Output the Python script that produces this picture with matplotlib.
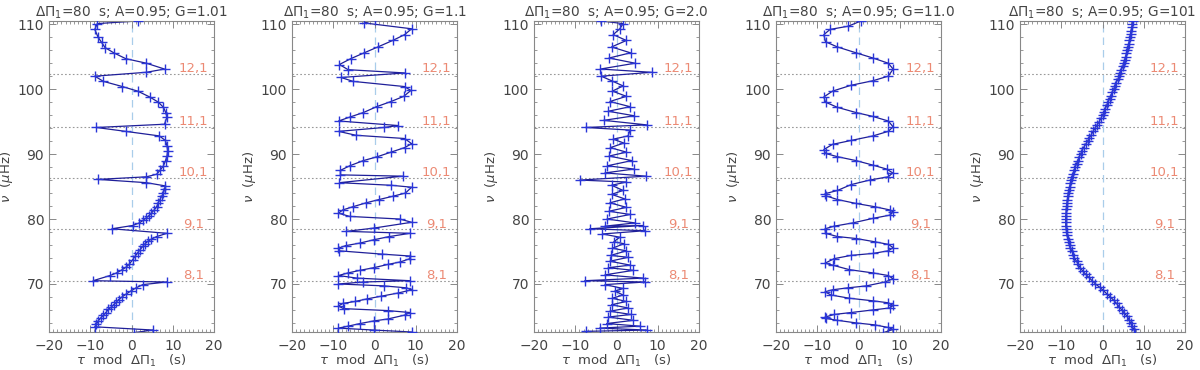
import numpy as np
from matplotlib import pyplot as plt
from matplotlib.ticker import MultipleLocator

# tau mod DeltaPi1 (s) and frequency nu (muHz)
G_values = ['1.01', '1.1', '2.0', '11.0', '101']

tau_G1 = [1.5, -8.3, -8.9, -8.1, -7.25, -6.4, -4.3, -1.4, 3.6, 8.0, 3.6, -8.9, -6.8, -2.2, 1.5,
          4.4, 6.5, 7.75, 8.3, 8.6, 8.0, -8.5, -1.4, 6.75, 8.2, 8.6, 8.75, 8.6, 8.25, 7.75,
          6.9, 6.1, 3.6, -8.1, 3.6, 8.2, 8.0, 7.75, 7.3, 6.9, 6.5, 6.1, 5.5, 4.8, 4.2,
          3.6, 2.8, 1.9, 0.25, -4.75, 8.6, 6.1, 4.8, 4.0, 3.3, 2.75, 2.1, 1.5, 0.9, 0.25,
          -0.6, -1.3, -2.25, -3.6, -5.2, -9.3, 8.6, 2.75, 1.1, -0.2, -1.4, -2.3, -3.1, -3.7, -4.3,
          -5.0, -5.6, -6.2, -6.8, -7.4, -8.1, -8.5, -8.9, 5.25, 0.5]
nu_G1 = [110.5, 110.1, 109.2, 108.0, 107.2, 106.4, 105.6, 104.7, 104.0, 103.1, 102.6, 102.0, 101.2, 100.4, 99.7,
         98.8, 98.0, 97.2, 96.4, 95.7, 94.6, 94.1, 93.5, 92.8, 92.1, 91.3, 90.5, 89.7, 89.0, 88.2,
         87.5, 86.9, 86.5, 86.1, 85.6, 85.1, 84.6, 84.0, 83.5, 83.0, 82.5, 81.9, 81.4, 80.9, 80.5,
         80.2, 79.8, 79.4, 79.0, 78.5, 77.8, 77.3, 76.9, 76.6, 76.2, 75.8, 75.3, 74.8, 74.3, 73.7,
         73.0, 72.6, 72.2, 71.7, 71.3, 70.5, 70.3, 69.9, 69.4, 68.9, 68.4, 68.0, 67.6, 67.2, 66.8,
         66.4, 66.1, 65.6, 65.2, 64.8, 64.3, 63.8, 63.4, 62.9, 62.5]

tau_G2 = [0.0, -2.5, 9.0, 7.3, 4.4, 0.8, -2.5, -5.75, -8.5, -6.4, 7.3, -8.1, -5.2, 7.3, 8.8,
          7.1, 4.0, 0.5, -2.7, -6.0, -8.7, 5.7, 2.3, -8.7, -4.5, 7.3, 9.0, 7.3, 4.0, 0.7,
          -2.7, -6.0, -8.25, -8.25, 6.9, -8.5, 4.0, 9.0, 7.5, 4.4, 1.1, -2.0, -5.2, -7.7, -8.75,
          -6.0, 6.1, 9.0, -0.2, -6.8, 8.6, 3.6, -0.2, -3.5, -7.0, -8.75, -8.5, 1.7, 8.6, 8.6,
          6.3, 3.2, -0.2, -3.5, -6.4, -8.75, -4.3, 8.6, -2.7, -8.75, 2.3, 7.75, 9.0, 5.7, 1.5,
          -1.8, -4.75, -7.7, -8.75, -7.5, 3.2, 8.6, 7.3, 3.2, -0.2, -3.5, -6.4, -8.75, -0.2, 9.0]
nu_G2 = [110.7, 110.2, 109.3, 108.4, 107.5, 106.5, 105.6, 104.7, 103.8, 103.0, 102.5, 101.8, 101.2, 100.4, 99.8,
         98.9, 98.1, 97.3, 96.4, 95.7, 95.1, 94.4, 94.1, 93.5, 92.9, 92.4, 91.6, 91.0, 90.3, 89.6,
         89.0, 88.2, 87.5, 86.8, 86.6, 85.6, 85.2, 84.9, 84.0, 83.5, 83.0, 82.5, 81.9, 81.4, 80.9,
         80.4, 80.0, 79.5, 78.6, 78.1, 77.8, 77.3, 76.8, 76.3, 75.9, 75.5, 75.1, 74.6, 74.3, 73.9,
         73.4, 73.0, 72.5, 72.1, 71.7, 71.3, 70.9, 70.5, 70.3, 70.0, 69.7, 69.4, 69.1, 68.6, 68.1,
         67.7, 67.3, 67.0, 66.6, 66.2, 65.9, 65.6, 65.2, 64.6, 64.3, 63.9, 63.5, 63.2, 62.9, 62.6]

tau_G3 = [-3.7, 1.6, 0.8, -0.8, 2.4, -1.2, 3.4, -1.8, 4.5, -3.9, 8.5, -3.7, -1.2, 1.6, -1.0,
          2.4, -1.6, 3.3, -2.0, 4.3, -3.1, 7.3, -7.5, 3.3, 2.8, -0.8, 1.8, -1.5, 2.4, -1.8,
          3.7, -2.2, 4.2, -2.8, 7.2, -8.9, 2.4, -1.2, 1.6, -1.2, 2.0, -1.6, 2.4, -1.8, 3.3,
          -2.3, 4.5, -2.8, 6.5, -6.5, 6.9, -3.4, 0.8, -0.65, 1.8, -1.0, 2.4, -1.4, 2.8, -1.6,
          3.3, -2.0, 4.1, -2.8, 6.5, -7.7, 6.9, -2.8, 1.6, -0.4, 1.6, -1.0, 2.4, -1.2, 2.8,
          -1.6, 3.5, -2.0, 4.1, -2.4, 5.7, -4.1, 7.3, -7.3]
nu_G3 = [110.5, 110.1, 109.3, 108.4, 107.5, 106.5, 105.6, 104.8, 104.0, 103.1, 102.6, 102.0, 101.3, 100.5, 99.7,
         98.9, 98.1, 97.3, 96.6, 95.9, 95.2, 94.5, 94.1, 93.7, 92.8, 92.3, 91.7, 91.0, 90.3, 89.7,
         89.0, 88.2, 87.7, 87.1, 86.6, 86.0, 85.7, 85.2, 84.4, 83.8, 83.1, 82.5, 81.8, 81.2, 80.7,
         80.0, 79.4, 78.9, 79.0, 78.5, 78.2, 77.7, 77.2, 76.5, 76.2, 75.5, 75.1, 74.4, 74.1, 73.5,
         72.9, 72.5, 72.1, 71.4, 70.9, 70.5, 70.3, 69.9, 69.3, 68.9, 68.3, 67.8, 67.3, 66.8, 66.3,
         65.8, 65.3, 64.9, 64.4, 63.9, 63.5, 63.2, 62.9, 62.7]

tau_G4 = [0.6, -2.5, -6.9, -8.4, -8.0, -5.1, -0.6, 3.5, 7.2, 8.4, 7.2, 3.5, -1.8, -6.3, -8.4,
          -8.0, -5.1, -0.6, 3.5, 7.2, 8.4, 7.2, 3.5, -1.8, -6.3, -8.4, -8.0, -5.1, -0.6, 3.5,
          6.8, 8.3, 7.2, 2.7, -1.8, -5.1, -8.1, -8.0, -5.1, -0.6, 3.9, 7.6, 8.4, 7.6, 3.5,
          -1.4, -5.9, -8.1, -8.0, -5.1, -0.6, 3.9, 7.2, 8.4, 7.2, 3.5, -1.8, -5.9, -8.1, -6.3,
          -2.2, 3.5, 7.2, 8.4, 6.4, 1.9, -2.6, -6.3, -8.1, -6.7, -2.2, 3.5, 7.2, 8.4, 7.6,
          3.5, -1.8, -5.9, -8.1, -8.0, -5.1, -0.6, 3.9, 7.2, 8.4, 6.0]
nu_G4 = [110.5, 109.7, 109.2, 108.4, 107.3, 106.5, 105.6, 104.8, 104.0, 103.1, 102.0, 101.3, 100.6, 99.7, 98.8,
         98.0, 97.2, 96.4, 95.8, 95.1, 94.2, 93.5, 92.8, 92.1, 91.5, 90.7, 90.1, 89.6, 89.0, 88.3,
         87.7, 87.1, 86.5, 86.0, 85.3, 84.4, 83.9, 83.6, 83.0, 82.4, 81.9, 81.4, 81.1, 80.6, 80.1,
         79.4, 78.9, 78.5, 77.8, 77.3, 77.0, 76.5, 76.1, 75.6, 75.1, 74.7, 74.4, 73.9, 73.2, 72.9,
         72.2, 71.7, 71.3, 70.8, 70.3, 69.7, 69.4, 69.1, 68.8, 68.3, 67.8, 67.4, 67.1, 66.7, 66.3,
         66.0, 65.6, 65.3, 64.9, 64.7, 64.4, 64.0, 63.7, 63.3, 63.0, 62.5]

tau_G5 = [7.9, 7.6, 7.2, 6.8, 6.4, 6.0, 5.3, 4.7, 4.0, 3.4, 2.7, 1.9, 1.0, 0.2, -0.7,
          -1.7, -2.5, -3.3, -4.1, -4.8, -5.4, -5.9, -6.3, -6.8, -7.1, -7.4, -7.8, -8.0, -8.2, -8.4,
          -8.6, -8.7, -8.8, -8.9, -8.9, -8.9, -8.9, -8.8, -8.8, -8.7, -8.6, -8.5, -8.4, -8.3, -8.1,
          -7.9, -7.8, -7.6, -7.3, -7.1, -6.9, -6.6, -6.3, -6.0, -5.7, -5.3, -5.0, -4.6, -4.1, -3.6,
          -3.2, -2.7, -2.3, -1.8, -1.3, -0.8, -0.4, 0.0, 0.4, 0.7, 1.0, 1.3, 1.7, 2.0, 2.4,
          2.7, 3.0, 3.3, 3.7, 4.0, 4.3, 4.6, 4.9, 5.1, 5.4, 5.6, 5.8, 6.0, 6.2, 6.4,
          6.5, 6.7, 6.8, 6.9, 7.1, 7.2, 7.4]
nu_G5 = [62.5, 63.0, 63.5, 64.0, 64.5, 65.0, 65.5, 66.0, 66.5, 67.0, 67.5, 68.0, 68.5, 69.0, 69.5,
         70.0, 70.5, 71.0, 71.5, 72.0, 72.5, 73.0, 73.5, 74.0, 74.5, 75.0, 75.5, 76.0, 76.5, 77.0,
         77.5, 78.0, 78.5, 79.0, 79.5, 80.0, 80.5, 81.0, 81.5, 82.0, 82.5, 83.0, 83.5, 84.0, 84.5,
         85.0, 85.5, 86.0, 86.5, 87.0, 87.5, 88.0, 88.5, 89.0, 89.5, 90.0, 90.5, 91.0, 91.5, 92.0,
         92.5, 93.0, 93.5, 94.0, 94.5, 95.0, 95.5, 96.0, 96.5, 97.0, 97.5, 98.0, 98.5, 99.0, 99.5,
         100.0, 100.5, 101.0, 101.5, 102.0, 102.5, 103.0, 103.5, 104.0, 104.5, 105.0, 105.5, 106.0, 106.5, 107.0,
         107.5, 108.0, 108.5, 109.0, 109.5, 110.0, 110.5]

# pure p modes (n, l)
nu_p = [70.5, 78.4, 86.3, 94.2, 102.4]
p_labels = ['8,1', '9,1', '10,1', '11,1', '12,1']

taus = [tau_G1, tau_G2, tau_G3, tau_G4, tau_G5]
nus = [nu_G1, nu_G2, nu_G3, nu_G4, nu_G5]

W, H = 1200, 370
lefts = [49, 292, 534, 776, 1020]
frame = '#888888'
txt = '#444444'

fig = plt.figure(figsize=(W / 100, H / 100), dpi=100)
for i in range(5):
    ax = fig.add_axes([lefts[i] / W, 38 / H, 165 / W, 311 / H])
    for nu, lab in zip(nu_p, p_labels):
        ax.axhline(nu, color='#999999', ls=(0, (1.5, 2)), lw=0.8, zorder=1)
        ax.text(15, nu - 0.2, lab, color='#ec8a74', fontsize=9.5, ha='center', va='bottom',
                zorder=1)
    ax.axvline(0, color='#a9cdea', ls=(0, (6, 4)), lw=0.9, zorder=1)
    ax.plot(taus[i], nus[i], '-', color='#1f1f99', lw=0.9, zorder=2)
    ax.plot(taus[i], nus[i], '+', color='#2a36d8', ms=6.5, mew=1.0, zorder=3)

    ax.set_xlim(-20, 20)
    ax.set_ylim(62.6, 110.5)
    ax.set_xticks([-20, -10, 0, 10, 20])
    ax.set_xticklabels(['\u221220', '\u221210', '0', '10', '20'])
    ax.set_yticks([70, 80, 90, 100, 110])
    ax.xaxis.set_minor_locator(MultipleLocator(1))
    ax.yaxis.set_minor_locator(MultipleLocator(2))
    ax.tick_params(which='both', direction='in', top=True, right=True, colors=frame,
                   labelcolor=txt, labelsize=10)
    ax.tick_params(which='major', length=5, width=0.7)
    ax.tick_params(which='minor', length=2.5, width=0.6)
    ax.tick_params(axis='x', pad=5)
    for s in ax.spines.values():
        s.set_color(frame)
        s.set_linewidth(0.8)
    ax.set_title(r'$\Delta\Pi_1$=80  s; A=0.95; G=' + G_values[i], fontsize=9.8, color=txt, pad=3)
    ax.set_xlabel(r'$\tau$  mod  $\Delta\Pi_1$   (s)', fontsize=9.5, color=txt, labelpad=0)
    ax.set_ylabel(r'$\nu$  ($\mu$Hz)', fontsize=9.5, color=txt, labelpad=2)

plt.savefig('out.png', dpi=100)
